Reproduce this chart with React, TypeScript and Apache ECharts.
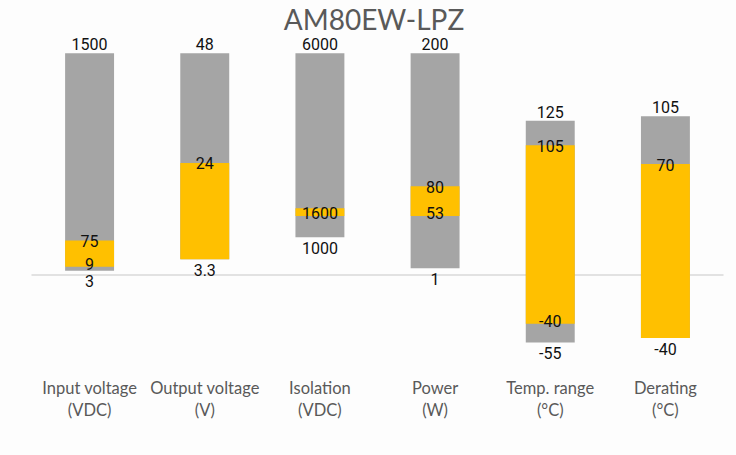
import React, { useEffect, useRef } from 'react';
import * as echarts from 'echarts';

// categories (two-line labels as on the chart)
const categories = [
    'Input voltage\n(VDC)',
    'Output voltage\n(V)',
    'Isolation\n(VDC)',
    'Power\n(W)',
    'Temp. range\n(°C)',
    'Derating\n(°C)',
];

// plotted bar ends, in a relative scale per category (full range = 100)
const grayTop = [100, 100, 100, 100, 69.5, 71.5];
const yellowTop = [15.5, 50.5, 30, 40, 58.5, 50];
const yellowBottom = [3.7, 7, 26.5, 26.5, -22, -28.5];
const grayBottom = [1.8, 7, 17, 3, -30.5, -28.5];

// printed values
const maxLabels = ['1500', '48', '6000', '200', '125', '105'];
const yellowTopLabels = ['75', '24', '1600', '80', '105', '70'];
const yellowBottomLabels = ['9', '', '', '53', '-40', ''];
const minLabels = ['3', '3.3', '1000', '1', '-55', '-40'];

const GRAY = '#a5a5a5';
const YELLOW = '#ffc000';
const BAR_FRACTION = 0.425;

type Place = 'above' | 'top' | 'bottom' | 'below';
type LabelItem = { cat: number; y: number; text: string; place: Place };

const buildLabels = (): LabelItem[] => {
    const items: LabelItem[] = [];
    categories.forEach((_, i) => {
        items.push({ cat: i, y: grayTop[i], text: maxLabels[i], place: 'above' });
        const thin = yellowTop[i] - yellowBottom[i] < 5;
        items.push({
            cat: i,
            y: thin ? (yellowTop[i] + yellowBottom[i]) / 2 : yellowTop[i],
            text: yellowTopLabels[i],
            place: 'top',
        });
        if (yellowBottomLabels[i]) {
            items.push({ cat: i, y: yellowBottom[i], text: yellowBottomLabels[i], place: 'bottom' });
        }
        items.push({ cat: i, y: grayBottom[i], text: minLabels[i], place: 'below' });
    });
    return items;
};

const barSeries = (name: string, lows: number[], highs: number[], color: string, z: number) => ({
    name,
    type: 'custom',
    xAxisIndex: 0,
    z,
    data: categories.map((_, i) => [i, lows[i], highs[i]]),
    renderItem: (params: any, api: any) => {
        const cat = api.value(0);
        const top = api.coord([cat, api.value(2)]);
        const bottom = api.coord([cat, api.value(1)]);
        const w = api.size([1, 0])[0] * BAR_FRACTION;
        return {
            type: 'rect',
            shape: { x: top[0] - w / 2, y: top[1], width: w, height: bottom[1] - top[1] },
            style: { fill: color },
        };
    },
});

const App: React.FC = () => {
    const chartRef = useRef<HTMLDivElement>(null);

    useEffect(() => {
        const chart = echarts.init(chartRef.current!, null, { renderer: 'svg' });
        const labels = buildLabels();

        const options = {
            animation: false,
            backgroundColor: '#fdfdfd',
            title: {
                text: 'AM80EW-LPZ',
                left: 369,
                top: 2,
                textAlign: 'center',
                textStyle: {
                    fontFamily: 'Lato',
                    fontSize: 28,
                    lineHeight: 24,
                    fontWeight: 'normal',
                    color: '#595959',
                },
            },
            grid: { left: 32, right: 13, top: 31, bottom: 82.6 },
            xAxis: [
                {
                    type: 'category',
                    data: categories,
                    position: 'bottom',
                    axisLine: { show: false, onZero: false },
                    axisTick: { show: false },
                    axisLabel: {
                        margin: 5,
                        fontFamily: 'Lato',
                        fontSize: 16.5,
                        lineHeight: 22,
                        color: '#595959',
                        interval: 0,
                    },
                },
                {
                    type: 'category',
                    data: categories,
                    position: 'top',
                    axisLine: { show: true, onZero: true, lineStyle: { color: '#d9d9d9', width: 1.5 } },
                    axisTick: { show: false },
                    axisLabel: { show: false },
                },
            ],
            yAxis: {
                type: 'value',
                min: -44,
                max: 110,
                show: false,
                splitLine: { show: false },
            },
            series: [
                barSeries('range', grayBottom, grayTop, GRAY, 2),
                barSeries('typical', yellowBottom, yellowTop, YELLOW, 3),
                {
                    name: 'labels',
                    type: 'custom',
                    xAxisIndex: 0,
                    z: 5,
                    data: labels.map(l => [l.cat, l.y]),
                    renderItem: (params: any, api: any) => {
                        const item = labels[params.dataIndex];
                        const p = api.coord([api.value(0), api.value(1)]);
                        let y = p[1];
                        if (item.place === 'above') y -= 8.5;
                        else if (item.place === 'below') y += 11;
                        else if (item.place === 'bottom') y -= 2.5;
                        else y += 1;
                        return {
                            type: 'text',
                            x: p[0],
                            y,
                            style: {
                                text: item.text,
                                fill: '#111',
                                font: '16px Roboto',
                                lineHeight: 13,
                                align: 'center',
                                verticalAlign: 'middle',
                            },
                        };
                    },
                },
            ],
        };

        chart.setOption(options as any);
        return () => {
            chart.dispose();
        };
    }, []);

    return (
        <div
            ref={chartRef}
            style={{ position: 'fixed', left: 0, top: 0, width: 736, height: 455 }}
        />
    );
};

export default App;
